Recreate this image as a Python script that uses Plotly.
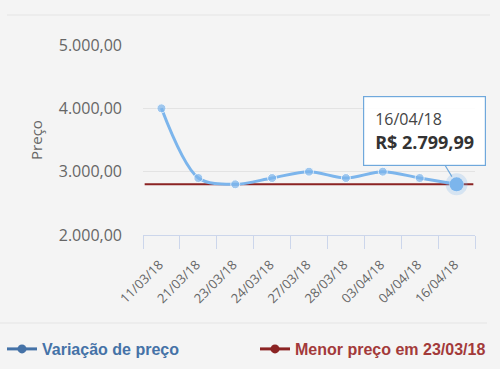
import plotly.graph_objects as go

dates = ["11/03/18", "21/03/18", "23/03/18", "24/03/18", "27/03/18",
         "28/03/18", "03/04/18", "04/04/18", "16/04/18"]
prices = [4000, 2900, 2800, 2900, 3000, 2900, 3000, 2900, 2799.99]
y_ticks = [2000, 3000, 4000, 5000]
series_name = "Variação de preço"
min_name = "Menor preço em 23/03/18"
tooltip_date = "16/04/18"
tooltip_price = "R$ 2.799,99"

BLUE = "#7cb5ec"
BLUE_DARK = "#4572a7"
RED = "#8b2323"
RED_TXT = "#a33a3a"
W, H = 500, 369
L, R, T, B = 143, 25, 45, 134
ph = H - T - B
pw = W - L - R

def py(px):  # pixel y -> paper y
    return 1 - (px - T) / ph

def pxx(px):
    return (px - L) / pw

fig = go.Figure()

sizes = [9] * (len(prices) - 1) + [14]
fig.add_trace(go.Scatter(
    x=dates, y=prices, mode="lines+markers",
    line=dict(color=BLUE, width=3, shape="spline", smoothing=0.9),
    marker=dict(size=sizes, color=BLUE), showlegend=False))

# halo on last point
fig.add_trace(go.Scatter(
    x=[dates[-1]], y=[prices[-1]], mode="markers",
    marker=dict(size=22, color="rgba(124,181,236,0.25)"),
    showlegend=False, hoverinfo="skip"))
fig.add_trace(go.Scatter(
    x=[dates[-1]], y=[prices[-1]], mode="markers",
    marker=dict(size=14, color=BLUE),
    showlegend=False, hoverinfo="skip"))

# legend entries
fig.add_trace(go.Scatter(
    x=[None], y=[None], mode="lines+markers",
    name='<b><span style="color:' + BLUE_DARK + '">' + series_name + '</span></b>',
    line=dict(color=BLUE_DARK, width=3), marker=dict(size=9, color=BLUE_DARK),
    legend="legend"))
fig.add_trace(go.Scatter(
    x=[None], y=[None], mode="lines+markers",
    name='<b><span style="color:' + RED_TXT + '">' + min_name + '</span></b>',
    line=dict(color=RED, width=3), marker=dict(size=9, color=RED),
    legend="legend2"))

min_price = min(prices)
fig.add_shape(type="line", xref="x domain", yref="y",
              x0=0.005, x1=0.995, y0=min_price, y1=min_price,
              line=dict(color=RED, width=2), layer="below")

# decorative top / bottom separators
fig.add_shape(type="line", xref="paper", yref="paper",
              x0=pxx(7), x1=pxx(490), y0=py(15), y1=py(15),
              line=dict(color="#e4e4e4", width=1))
fig.add_shape(type="line", xref="paper", yref="paper",
              x0=pxx(0), x1=pxx(487), y0=py(323), y1=py(323),
              line=dict(color="#e4e4e4", width=1))

fig.add_annotation(
    x=dates[-1], y=prices[-1], xref="x", yref="y",
    ax=-32, ay=-53, xanchor="center", yanchor="middle",
    text=('<span style="font-size:16px;color:#444">' + tooltip_date + '</span><br>'
          '<b><span style="font-size:18px;color:#333">' + tooltip_price + '</span></b>'),
    align="left", showarrow=True, arrowhead=0, arrowwidth=1.2,
    arrowcolor="#6fa8dc", standoff=9,
    bordercolor="#6fa8dc", borderwidth=1.2, borderpad=11,
    bgcolor="rgba(255,255,255,0.92)",
    font=dict(family="Open Sans, sans-serif", size=18))

legend_font = dict(family="Liberation Sans, Arial", size=16)
fig.update_layout(
    width=W, height=H,
    margin=dict(l=L, r=R, t=T, b=B, autoexpand=False),
    paper_bgcolor="#f4f4f4", plot_bgcolor="#f4f4f4",
    separators=",.",
    showlegend=True,
    legend=dict(orientation="h", x=pxx(2), xanchor="left",
                y=py(349), yanchor="middle", font=legend_font,
                bgcolor="rgba(0,0,0,0)"),
    legend2=dict(orientation="h", x=pxx(255), xanchor="left",
                 y=py(349), yanchor="middle", font=legend_font,
                 bgcolor="rgba(0,0,0,0)"),
    font=dict(family="Open Sans, sans-serif", color="#666"),
    hovermode=False,
)

fig.update_xaxes(
    type="category", categoryorder="array", categoryarray=dates,
    tickson="boundaries", ticks="outside", ticklen=13,
    tickcolor="#ccd6eb", showline=True, linecolor="#ccd6eb", linewidth=1,
    showgrid=False, tickangle=-45, tickfont=dict(size=13, color="#666"),
    ticklabelstandoff=16, ticklabelshift=-2,
    range=[-0.5, len(dates) - 0.5], automargin=False)

fig.update_yaxes(
    range=[y_ticks[0], y_ticks[-1]], tickvals=y_ticks, tickformat=",.2f",
    showgrid=True, gridcolor="#e3e3e3", gridwidth=1, zeroline=False,
    showline=False, tickfont=dict(size=16, color="#666"),
    ticklabelstandoff=20, automargin=False,
    title=dict(text="Preço", font=dict(size=15, color="#666"), standoff=12))

fig.write_html("out.html", config={"displayModeBar": False},
               post_script="document.body.style.margin='0';document.body.style.background='#f4f4f4';")
